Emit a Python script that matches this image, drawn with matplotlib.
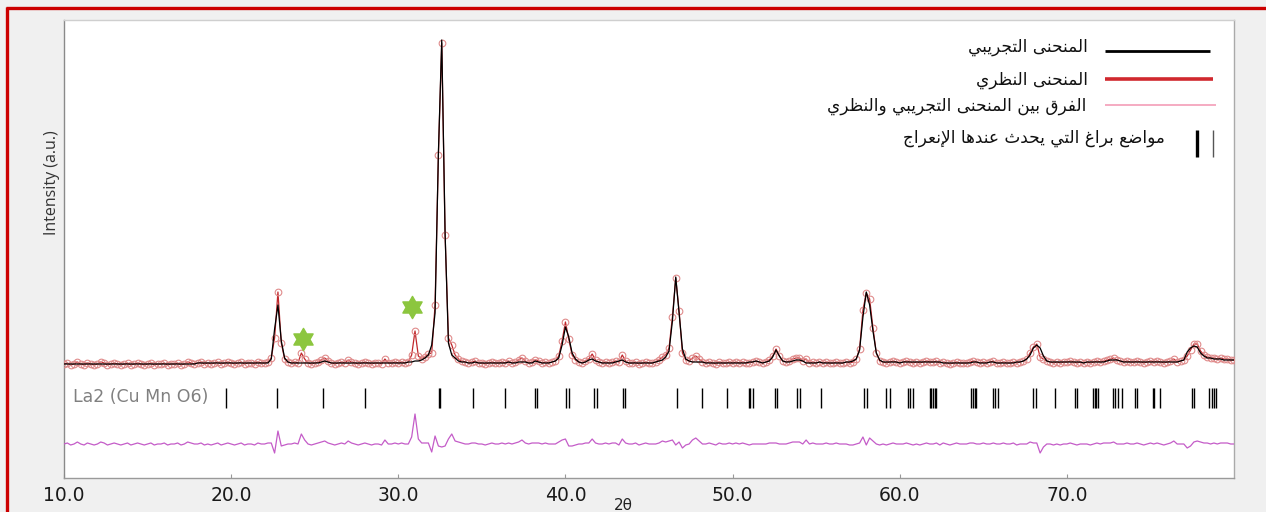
import numpy as np
import matplotlib
matplotlib.use("Agg")
import matplotlib.pyplot as plt
from matplotlib.lines import Line2D
from matplotlib.path import Path

# ---------------------------------------------------------------- data
scan_start = 10.0      # first 2-theta of the scan (deg)
scan_step = 0.2        # step width (deg)

# Observed profile, one row per 2 deg (10 steps)
observed = [
    19, 20, 18, 19, 21, 19, 18, 20, 19, 18,      # 10
    19, 21, 20, 18, 19, 20, 19, 18, 19, 20,      # 12
    18, 19, 20, 19, 18, 19, 20, 18, 19, 19,      # 14
    20, 18, 19, 19, 20, 18, 19, 21, 20, 19,      # 16
    20, 21, 19, 20, 19, 20, 21, 19, 20, 21,      # 18
    20, 19, 20, 21, 19, 20, 20, 19, 21, 20,      # 20
    20, 21, 25, 45, 91, 40, 24, 21, 20, 21,      # 22
    20, 30, 24, 20, 19, 20, 21, 23, 25, 22,      # 24
    20, 19, 20, 21, 20, 23, 21, 20, 19, 20,      # 26
    21, 20, 19, 20, 20, 19, 24, 20, 20, 21,      # 28
    20, 21, 20, 21, 28, 52, 27, 24, 26, 29,      # 30
    30, 78, 228, 340, 148, 45, 38, 28, 24, 22,   # 32
    21, 20, 21, 22, 20, 20, 19, 20, 21, 20,      # 34
    20, 21, 20, 22, 20, 21, 23, 25, 22, 20,      # 36
    21, 23, 22, 20, 21, 20, 21, 22, 27, 42,      # 38
    61, 44, 28, 23, 21, 20, 22, 24, 29, 23,      # 40
    21, 20, 21, 20, 21, 22, 21, 28, 22, 20,      # 42
    20, 21, 19, 20, 21, 20, 20, 21, 23, 26,      # 44
    28, 35, 66, 105, 72, 30, 23, 22, 25, 27,     # 46
    24, 21, 20, 21, 20, 19, 21, 20, 20, 21,      # 48
    20, 21, 20, 21, 20, 20, 21, 22, 21, 20,      # 50
    21, 23, 27, 34, 27, 22, 21, 22, 24, 25,      # 52
    25, 22, 24, 20, 21, 20, 21, 20, 21, 20,      # 54
    20, 21, 20, 20, 21, 20, 21, 24, 34, 73,      # 56
    90, 84, 55, 30, 22, 21, 20, 21, 22, 21,      # 58
    20, 21, 22, 21, 20, 21, 20, 21, 22, 21,      # 60
    21, 22, 20, 21, 20, 19, 20, 21, 20, 20,      # 62
    20, 21, 22, 21, 20, 21, 20, 21, 22, 20,      # 64
    20, 21, 20, 20, 21, 20, 21, 22, 24, 30,      # 66
    36, 39, 26, 24, 22, 21, 20, 21, 20, 21,      # 68
    21, 22, 21, 20, 21, 20, 21, 20, 21, 22,      # 70
    21, 22, 23, 24, 25, 23, 22, 21, 22, 21,      # 72
    21, 22, 21, 20, 21, 22, 21, 22, 21, 20,      # 74
    21, 22, 24, 21, 22, 23, 27, 33, 39, 39,      # 76
    32, 28, 26, 25, 25, 24, 25, 24, 24, 23,      # 78
    23,                                          # 80
]

# Calculated (refined) profile on the same steps
calculated = [
    19, 19, 19, 19, 19, 19, 19, 19, 19, 19,      # 10
    19, 19, 19, 19, 19, 19, 19, 19, 19, 19,      # 12
    19, 19, 19, 19, 19, 19, 19, 19, 19, 19,      # 14
    19, 19, 19, 19, 19, 19, 19, 19, 19, 19,      # 16
    20, 20, 20, 20, 20, 20, 20, 20, 20, 20,      # 18
    20, 20, 20, 20, 20, 20, 20, 20, 20, 20,      # 20
    20, 20, 24, 54, 78, 42, 25, 21, 20, 20,      # 22
    20, 20, 20, 20, 20, 20, 20, 21, 22, 21,      # 24
    20, 20, 20, 20, 20, 20, 20, 20, 20, 20,      # 26
    20, 20, 20, 20, 20, 20, 20, 20, 20, 20,      # 28
    20, 20, 20, 21, 21, 22, 22, 23, 25, 28,      # 30
    38, 70, 230, 343, 150, 40, 28, 25, 22, 21,   # 32
    21, 20, 20, 21, 20, 20, 20, 20, 20, 20,      # 34
    20, 20, 20, 21, 20, 20, 21, 21, 21, 20,      # 36
    20, 22, 21, 20, 20, 20, 21, 22, 25, 38,      # 38
    56, 46, 30, 24, 21, 20, 21, 23, 24, 22,      # 40
    21, 20, 20, 20, 20, 21, 22, 23, 21, 20,      # 42
    20, 20, 20, 20, 20, 20, 20, 21, 22, 23,      # 44
    26, 32, 62, 106, 70, 34, 24, 22, 21, 21,     # 46
    21, 21, 20, 20, 20, 20, 20, 20, 20, 20,      # 48
    20, 20, 20, 20, 20, 21, 21, 22, 21, 20,      # 50
    21, 22, 26, 33, 27, 22, 21, 21, 22, 23,      # 52
    23, 22, 20, 20, 20, 20, 21, 20, 20, 20,      # 54
    20, 20, 20, 20, 21, 21, 22, 24, 33, 66,      # 56
    91, 78, 52, 30, 23, 21, 21, 21, 21, 21,      # 58
    20, 21, 21, 21, 21, 21, 21, 21, 21, 21,      # 60
    21, 21, 21, 20, 20, 20, 20, 20, 20, 20,      # 62
    20, 20, 21, 21, 20, 20, 20, 21, 21, 20,      # 64
    20, 20, 20, 20, 20, 21, 21, 22, 24, 28,      # 66
    35, 38, 35, 27, 22, 21, 21, 21, 21, 21,      # 68
    21, 21, 21, 21, 21, 20, 21, 21, 21, 21,      # 70
    21, 21, 22, 23, 23, 23, 22, 21, 21, 21,      # 72
    21, 21, 21, 21, 21, 21, 21, 21, 21, 21,      # 74
    21, 21, 21, 21, 22, 23, 31, 35, 37, 36,      # 76
    30, 27, 25, 25, 24, 24, 24, 23, 23, 23,      # 78
    23,                                          # 80
]

# Bragg reflection positions of La2CuMnO6 (2-theta, deg)
bragg_positions = [
    19.68, 22.77, 25.51, 28.01, 32.42, 32.50, 34.45, 36.41, 38.20, 38.30,
    40.04, 40.24, 41.69, 41.90, 43.43, 43.59, 46.67, 48.16, 49.68, 51.00,
    51.06, 51.22, 52.51, 52.65, 53.87, 54.01, 55.27, 57.86, 58.07, 59.20,
    59.44, 60.50, 60.64, 60.80, 61.80, 61.90, 62.00, 62.10, 62.20, 64.29,
    64.39, 64.49, 64.59, 65.59, 65.73, 65.89, 67.98, 68.14, 69.28, 70.48,
    70.62, 71.57, 71.66, 71.74, 71.87, 72.74, 72.89, 73.04, 73.28, 74.07,
    74.17, 75.13, 75.22, 75.57, 77.47, 77.62, 78.52, 78.66, 78.82, 78.92,
]

# Impurity reflections marked with a star (2-theta, marker height)
impurity_2theta = [24.29, 30.82]
impurity_marker_y = [44, 76]

phase_name = "La2 (Cu Mn O6)"
x_ticks = [10.0, 20.0, 30.0, 40.0, 50.0, 60.0, 70.0]

legend_labels = [
    "المنحنى التجريبي",
    "المنحنى النظري",
    "الفرق بين المنحنى التجريبي والنظري",
    "مواضع براغ التي يحدث عندها الإنعراج",
]

# ---------------------------------------------------------------- Arabic shaping
FORMS = {
    'ا': ('\uFE8D', '\uFE8E', None, None),
    'إ': ('\uFE87', '\uFE88', None, None),
    'ب': ('\uFE8F', '\uFE90', '\uFE91', '\uFE92'),
    'ت': ('\uFE95', '\uFE96', '\uFE97', '\uFE98'),
    'ث': ('\uFE99', '\uFE9A', '\uFE9B', '\uFE9C'),
    'ج': ('\uFE9D', '\uFE9E', '\uFE9F', '\uFEA0'),
    'ح': ('\uFEA1', '\uFEA2', '\uFEA3', '\uFEA4'),
    'د': ('\uFEA9', '\uFEAA', None, None),
    'ر': ('\uFEAD', '\uFEAE', None, None),
    'ض': ('\uFEBD', '\uFEBE', '\uFEBF', '\uFEC0'),
    'ظ': ('\uFEC5', '\uFEC6', '\uFEC7', '\uFEC8'),
    'ع': ('\uFEC9', '\uFECA', '\uFECB', '\uFECC'),
    'غ': ('\uFECD', '\uFECE', '\uFECF', '\uFED0'),
    'ف': ('\uFED1', '\uFED2', '\uFED3', '\uFED4'),
    'ق': ('\uFED5', '\uFED6', '\uFED7', '\uFED8'),
    'ل': ('\uFEDD', '\uFEDE', '\uFEDF', '\uFEE0'),
    'م': ('\uFEE1', '\uFEE2', '\uFEE3', '\uFEE4'),
    'ن': ('\uFEE5', '\uFEE6', '\uFEE7', '\uFEE8'),
    'ه': ('\uFEE9', '\uFEEA', '\uFEEB', '\uFEEC'),
    'و': ('\uFEED', '\uFEEE', None, None),
    'ى': ('\uFEEF', '\uFEF0', None, None),
    'ي': ('\uFEF1', '\uFEF2', '\uFEF3', '\uFEF4'),
}
LAM_ALEF = {
    'ا': ('\uFEFB', '\uFEFC'),
    'إ': ('\uFEF9', '\uFEFA'),
    'أ': ('\uFEF7', '\uFEF8'),
    'آ': ('\uFEF5', '\uFEF6'),
}


def shape_arabic(text):
    """Contextual forms + visual (right-to-left) order for plain Arabic text."""
    out = []
    n = len(text)
    i = 0
    prev_joins = False
    while i < n:
        c = text[i]
        if c not in FORMS:
            out.append(c)
            prev_joins = False
            i += 1
            continue
        if c == 'ل' and i + 1 < n and text[i + 1] in LAM_ALEF:
            iso, fin = LAM_ALEF[text[i + 1]]
            out.append(fin if prev_joins else iso)
            prev_joins = False
            i += 2
            continue
        iso, fin, ini, med = FORMS[c]
        nxt = text[i + 1] if i + 1 < n else None
        next_joins = ini is not None and nxt in FORMS
        if prev_joins and next_joins:
            g = med
        elif prev_joins:
            g = fin
        elif next_joins:
            g = ini
        else:
            g = iso
        out.append(g)
        prev_joins = next_joins
        i += 1
    return ''.join(reversed(out))


# ---------------------------------------------------------------- figure
W, H = 1266, 512
fig = plt.figure(figsize=(W / 100, H / 100), dpi=100, facecolor='#f0f0f0')


def fx(px):
    return px / W


def fy(py):
    return 1 - py / H


ax = fig.add_axes([fx(64), fy(478), fx(1234) - fx(64), fy(20) - fy(478)])
ax.set_facecolor('white')

two_theta = np.round(scan_start + scan_step * np.arange(len(observed)), 2)
obs = np.array(observed, dtype=float)
calc = np.array(calculated, dtype=float)

diff_offset = -61
tick_low, tick_high = -25, -5

# observed points with connecting line
ax.plot(two_theta, obs, color='#c0282c', lw=0.9, zorder=3,
        marker='o', ms=4.8, mfc='none', mec='#e08c8c', mew=0.8)
# calculated profile
ax.plot(two_theta, calc, color='black', lw=0.9, zorder=4)
# difference curve
ax.plot(two_theta, obs - calc + diff_offset, color='#c45cc8', lw=0.9, zorder=3)

# Bragg reflection markers
ax.vlines(bragg_positions, tick_low, tick_high, color='black', lw=1.0, zorder=3)
ax.text(10.52, -14.5, phase_name, color='#808080', fontsize=12.5,
        family='DejaVu Sans', ha='left', va='center')

# impurity stars (six-pointed)
ang = np.deg2rad(90 + 30 * np.arange(12))
rad = np.where(np.arange(12) % 2 == 0, 1.0, 0.577)
star_verts = np.column_stack([rad * np.cos(ang), rad * np.sin(ang)])
star_verts = np.vstack([star_verts, star_verts[:1]])
star_marker = Path(star_verts, closed=True)
ax.plot(impurity_2theta, impurity_marker_y, ls='none', marker=star_marker,
        ms=16, mfc='#8cc63f', mec='#8cc63f', zorder=6)

ax.set_xlim(10, 80)
ax.set_ylim(-95, 363)
ax.set_xticks(x_ticks)
ax.set_xticklabels([f"{t:.1f}" for t in x_ticks], fontsize=13.5,
                   family='DejaVu Sans', color='#1a1a1a')
ax.set_yticks([])
ax.tick_params(axis='x', direction='in', length=3, width=0.8,
               color='#999999', pad=6)
for side, col in (('left', '#8a8a8a'), ('bottom', '#9a9a9a'),
                  ('top', '#cfcfcf'), ('right', '#aaaaaa')):
    ax.spines[side].set_color(col)
    ax.spines[side].set_linewidth(1.0)

fig.text(fx(52), fy(183), 'Intensity (a.u.)', rotation=90, fontsize=11.5,
         family='Open Sans', color='#333333', ha='center', va='center')
fig.text(fx(623), fy(505), '2θ', fontsize=11, family='DejaVu Sans',
         color='#222222', ha='center', va='center')

# ---------------------------------------------------------------- legend
arabic_font = 'DejaVu Sans'
legend_rows = [
    # text right edge, text y, line x0, line x1, line y, colour, width
    (1088, 47, 1105, 1210, 51, 'black', 2.0),
    (1088, 80, 1105, 1213, 79, '#d0282e', 2.6),
    (1086, 106, 1105, 1216, 105, '#f4a5bd', 1.3),
]
for label, (tx, ty, x0, x1, ly, col, lw) in zip(legend_labels[:3], legend_rows):
    fig.text(fx(tx), fy(ty), shape_arabic(label), fontsize=12.2,
             family=arabic_font, color='#111111', ha='right', va='center')
    fig.add_artist(Line2D([fx(x0), fx(x1)], [fy(ly), fy(ly)],
                          color=col, lw=lw, solid_capstyle='butt'))
fig.text(fx(1165), fy(138), shape_arabic(legend_labels[3]), fontsize=12.2,
         family=arabic_font, color='#111111', ha='right', va='center')
fig.add_artist(Line2D([fx(1197), fx(1197)], [fy(130), fy(157)],
                      color='black', lw=2.4, solid_capstyle='butt'))
fig.add_artist(Line2D([fx(1213), fx(1213)], [fy(130), fy(157)],
                      color='#555555', lw=1.0, solid_capstyle='butt'))

# ---------------------------------------------------------------- red frame
fig.add_artist(Line2D([fx(7.5), fx(7.5)], [fy(7), 0], color='#cc0000',
                      lw=2.4, solid_capstyle='butt'))
fig.add_artist(Line2D([fx(6.3), 1], [fy(7.5), fy(7.5)], color='#cc0000',
                      lw=2.4, solid_capstyle='butt'))

fig.savefig('out.png', dpi=100, facecolor=fig.get_facecolor())
